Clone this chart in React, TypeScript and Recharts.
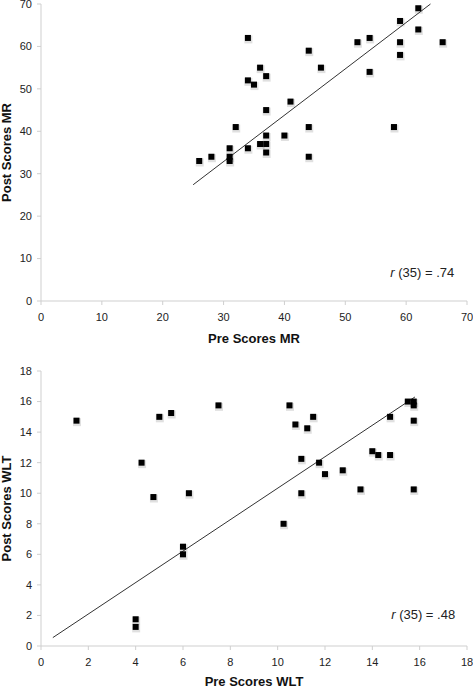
import React from 'react';
import {
  ScatterChart,
  Scatter,
  XAxis,
  YAxis,
  ReferenceLine,
  ReferenceDot,
} from 'recharts';

const FONT = '"Liberation Sans", Arial, sans-serif';

// Chart 1: MR
const mrPre = [62, 59, 62, 34, 52, 54, 59, 66, 59, 44, 36, 46, 37, 34, 35, 54, 41, 37, 32, 44, 58, 37, 40, 31, 34, 36, 37, 37, 44, 26, 28, 31, 31];
const mrPost = [69, 66, 64, 62, 61, 62, 61, 61, 58, 59, 55, 55, 53, 52, 51, 54, 47, 45, 41, 41, 41, 39, 39, 36, 36, 37, 37, 35, 34, 33, 34, 34, 33];
const mrTicks = [0, 10, 20, 30, 40, 50, 60, 70];
const mrTrendX = [25, 64];
const mrTrendY = [27.4, 70];
const mrNote = { x: 67.9, y: 5.7, df: '35', r: '.74' };

// Chart 2: WLT
const wltPre = [1.5, 4.25, 5, 5.5, 7.5, 4.75, 6.25, 10.5, 10.75, 11.5, 11.25, 11, 11.75, 12, 12.75, 11, 13.5, 14, 14.25, 14.75, 14.75, 15.5, 15.75, 15.75, 15.75, 15.75, 10.25, 6, 6, 4, 4];
const wltPost = [14.75, 12, 15, 15.25, 15.75, 9.75, 10, 15.75, 14.5, 15, 14.25, 12.25, 12, 11.25, 11.5, 10, 10.25, 12.75, 12.5, 12.5, 15, 16, 16, 15.75, 14.75, 10.25, 8, 6.5, 6, 1.75, 1.25];
const wltTicks = [0, 2, 4, 6, 8, 10, 12, 14, 16, 18];
const wltTrendX = [0.5, 15.8];
const wltTrendY = [0.55, 16.3];
const wltNote = { x: 17.5, y: 1.75, df: '35', r: '.48' };

const toRows = (xs: number[], ys: number[]) => xs.map((x, i) => ({ x, y: ys[i] }));

const Square = (props: any) => {
  const { cx, cy } = props;
  if (cx == null || cy == null) return null;
  return (
    <g>
      <rect x={cx - 3.5} y={cy - 2.5} width={8} height={8} fill="#000" opacity={0.12} />
      <rect x={cx - 3} y={cy - 3} width={6} height={6} fill="#000" />
    </g>
  );
};

const makeNote = (df: string, r: string) => (props: any) => {
  const { cx, cy } = props;
  if (cx == null || cy == null) return null;
  return (
    <text x={cx} y={cy} textAnchor="end" fontFamily={FONT} fontSize={13} fill="#222">
      <tspan fontStyle="italic">r</tspan>
      <tspan>{` (${df}) = ${r}`}</tspan>
    </text>
  );
};

const xTitle = (text: string) => (props: any) => {
  const vb = props.viewBox;
  return (
    <text
      x={vb.x + vb.width / 2}
      y={vb.y + vb.height - 2}
      textAnchor="middle"
      fontFamily={FONT}
      fontWeight="bold"
      fontSize={13}
      fill="#111"
    >
      {text}
    </text>
  );
};

const yTitle = (text: string) => (props: any) => {
  const vb = props.viewBox;
  const cx = 11;
  const cy = vb.y + vb.height / 2;
  return (
    <text
      x={cx}
      y={cy}
      transform={`rotate(-90 ${cx} ${cy})`}
      textAnchor="middle"
      fontFamily={FONT}
      fontWeight="bold"
      fontSize={13}
      fill="#111"
    >
      {text}
    </text>
  );
};

const axisLine = { stroke: '#cfcfcf', strokeWidth: 1 };
const tickStyle = { fontFamily: FONT, fontSize: 11, fill: '#222' };

type PanelProps = {
  height: number;
  top: number;
  xAxisHeight: number;
  rows: { x: number; y: number }[];
  ticks: number[];
  max: number;
  trendX: number[];
  trendY: number[];
  note: { x: number; y: number; df: string; r: string };
  xLabel: string;
  yLabel: string;
};

const Panel = (p: PanelProps) => (
  <ScatterChart
    width={473}
    height={p.height}
    margin={{ top: p.top, right: 6, bottom: 0, left: 0 }}
  >
    <XAxis
      type="number"
      dataKey="x"
      domain={[0, p.max]}
      ticks={p.ticks}
      interval={0}
      height={p.xAxisHeight}
      axisLine={axisLine}
      tickLine={axisLine}
      tickSize={4}
      tickMargin={8}
      tick={tickStyle}
      label={{ content: xTitle(p.xLabel) }}
    />
    <YAxis
      type="number"
      dataKey="y"
      domain={[0, p.max]}
      ticks={p.ticks}
      interval={0}
      width={41}
      axisLine={axisLine}
      tickLine={axisLine}
      tickSize={4}
      tickMargin={5}
      tick={tickStyle}
      label={{ content: yTitle(p.yLabel) }}
    />
    <ReferenceLine
      segment={[
        { x: p.trendX[0], y: p.trendY[0] },
        { x: p.trendX[1], y: p.trendY[1] },
      ]}
      stroke="#333"
      strokeWidth={1}
    />
    <Scatter data={p.rows} shape={Square} isAnimationActive={false} />
    <ReferenceDot x={p.note.x} y={p.note.y} shape={makeNote(p.note.df, p.note.r)} />
  </ScatterChart>
);

export default function App() {
  return (
    <div style={{ position: 'absolute', left: 0, top: 0, width: 473, height: 688, background: '#fff' }}>
      <Panel
        height={345}
        top={4}
        xAxisHeight={44}
        rows={toRows(mrPre, mrPost)}
        ticks={mrTicks}
        max={70}
        trendX={mrTrendX}
        trendY={mrTrendY}
        note={mrNote}
        xLabel="Pre Scores MR"
        yLabel="Post Scores MR"
      />
      <Panel
        height={343}
        top={26}
        xAxisHeight={42}
        rows={toRows(wltPre, wltPost)}
        ticks={wltTicks}
        max={18}
        trendX={wltTrendX}
        trendY={wltTrendY}
        note={wltNote}
        xLabel="Pre Scores WLT"
        yLabel="Post Scores WLT"
      />
    </div>
  );
}
